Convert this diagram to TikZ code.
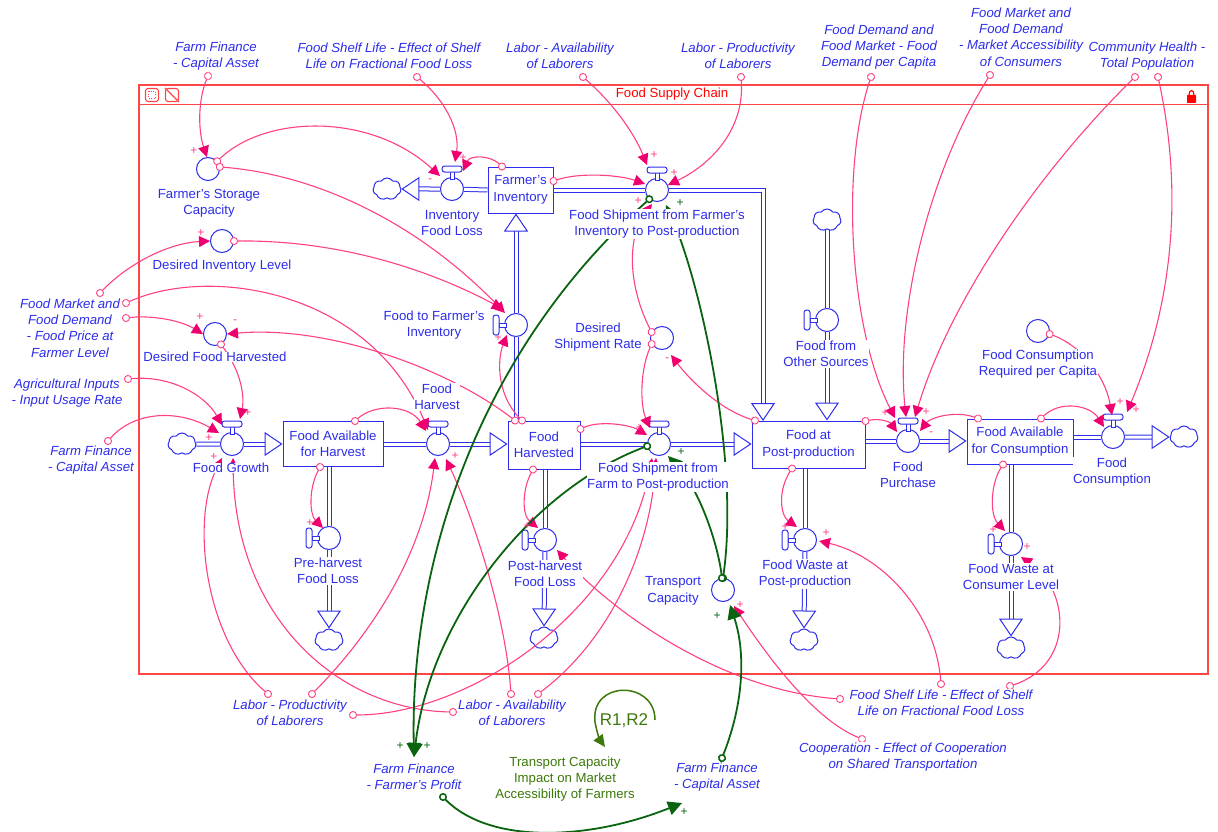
\documentclass[tikz,border=0pt]{standalone}
\usepackage{fontspec}
\setmainfont{Liberation Sans}
\usepackage{xcolor}
\usetikzlibrary{arrows.meta,shapes.symbols,calc}
\definecolor{flowblue}{RGB}{45,45,235}
\definecolor{linkpink}{RGB}{255,64,130}
\definecolor{tippink}{RGB}{240,0,110}
\definecolor{loopgreen}{RGB}{10,100,15}
\definecolor{olivegreen}{RGB}{60,120,10}
\definecolor{framered}{RGB}{255,70,70}
\pgfdeclarelayer{pipes}
\pgfdeclarelayer{links}
\pgfdeclarelayer{labels}
\pgfsetlayers{pipes,main,links,labels}
\tikzset{
	stockbox/.style={draw=flowblue, line width=1pt, fill=white, inner sep=0pt, text=flowblue, align=center, font=\fontsize{13.2}{16.4}\selectfont},
	flowv/.style={circle, draw=flowblue, line width=1pt, fill=white, inner sep=0pt, minimum size=23pt},
	conv/.style={flowv},
	puff/.style={cloud, cloud puffs=7, cloud puff arc=110, aspect=1.25, draw=flowblue, line width=1pt, fill=white, inner sep=0pt, minimum width=28pt, minimum height=22pt},
	pipe/.style={draw=flowblue, line width=1pt, double=white, double distance=3pt},
	pipehead/.style={pipe, -{Triangle[open, length=18pt, width=24pt, line width=1pt, fill=white]}},
	link/.style={draw=linkpink, line width=1.1pt, shorten <=-4pt, {Circle[open, length=8pt, width=8pt, line width=.9pt, fill=white]}-{Triangle[length=11pt, width=11pt, color=tippink]}},
	glink/.style={draw=loopgreen, line width=1.8pt, shorten <=-4pt, {Circle[open, length=8pt, width=8pt, line width=1.5pt, fill=white]}-{Triangle[length=14pt, width=14pt]}},
	varlabel/.style={text=flowblue, align=center, fill=white, inner sep=.5pt, font=\fontsize{13.2}{16.4}\selectfont},
	ghost/.style={varlabel, font=\fontsize{13.2}{16.4}\selectfont\itshape},
	pluspink/.style={text=linkpink, inner sep=0pt, font=\fontsize{12}{12}\selectfont},
	plusgreen/.style={text=loopgreen, inner sep=0pt, font=\fontsize{12}{12}\selectfont},
	valve up/.pic={
			\draw[draw=flowblue, line width=1pt, fill=white] (-2,-10) rectangle (2,-18);
			\draw[draw=flowblue, line width=1pt, fill=white, rounded corners=2.5pt] (-10,-17) rectangle (10,-23);
		},
	valve left/.pic={
			\draw[draw=flowblue, line width=1pt, fill=white] (-10,-2) rectangle (-17,2);
			\draw[draw=flowblue, line width=1pt, fill=white, rounded corners=2.5pt] (-17,-10) rectangle (-23,10);
		}
}
\begin{document}
\begin{tikzpicture}[x=1pt, y=-1pt]
	\useasboundingbox (0,0) rectangle (1218,832);

	% frame of the sector
	\begin{pgfonlayer}{pipes}
		\draw[draw=framered, line width=1.5pt] (139,85) rectangle (1208,674);
		\draw[draw=framered, line width=1pt] (139,105) -- (1208,105);
	\end{pgfonlayer}
	\node[draw=framered, line width=1.1pt, rounded corners=2.5pt, minimum size=13pt, inner sep=0pt] (icoA) at (152,95) {};
	\node[draw=framered, line width=.6pt, dotted, minimum size=7pt, inner sep=0pt] (icoAin) at (152,95) {};
	\node[draw=framered, line width=1.1pt, rounded corners=2.5pt, minimum size=13pt, inner sep=0pt] (icoB) at (172,95) {};
	\draw[draw=framered, line width=1.1pt] (icoB.north west) -- (icoB.south east);
	\node[text=red, inner sep=0pt, font=\fontsize{13.2}{14}\selectfont] (title) at (672,94) {Food Supply Chain};
	\fill[red, rounded corners=.6pt] (1187,95) rectangle (1196,103);
	\draw[red, line width=1.2pt] (1189,95) .. controls (1189,89) and (1194,89) .. (1194,95);

	% stocks
	\node[stockbox, minimum width=65pt, minimum height=46pt] (fi) at (520.5,190) {Farmer's\\Inventory};
	\node[stockbox, minimum width=100pt, minimum height=45pt] (fah) at (333,444) {Food Available\\for Harvest};
	\node[stockbox, minimum width=72pt, minimum height=48pt] (fh) at (544,445) {Food\\Harvested};
	\node[stockbox, minimum width=113pt, minimum height=47pt] (pp) at (808.5,444.5) {Food at\\Post-production};
	\node[stockbox, minimum width=106pt, minimum height=45pt] (fac) at (1020,441.5) {Food Available\\for Consumption};

	% flows and converters
	\foreach \n/\x/\y in {vFG/232/444, vFH/438/444, vSF/659/444, vFP/908/441, vFC/1113/437, vIL/452/189, vSI/657/190} {
		\node[flowv] (\n) at (\x,\y) {};
		\pic at (\n) {valve up};
	}
	\foreach \n/\x/\y in {vTF/516/325, vPH/329/538, vPL/545/540, vWP/805/540, vWC/1011/544, vOS/827/320} {
		\node[flowv] (\n) at (\x,\y) {};
		\pic at (\n) {valve left};
	}
	\foreach \n/\x/\y in {cSC/208/169, cDI/222/241, cDF/215/334, cDS/662/338, cTC/723/590, cCR/1038/331} {
		\node[conv] (\n) at (\x,\y) {};
	}
	\foreach \n/\x/\y in {clIL/387/189, clFG/182/444, clPH/329/640, clPL/544/638, clWP/804/640, clWC/1011/648, clFC/1184/437, clOS/827/220} {
		\node[puff] (\n) at (\x,\y) {};
	}

	\begin{pgfonlayer}{pipes}
		\draw[pipe] (clFG) -- (vFG);
		\draw[pipehead] (vFG) -- (fah.west);
		\draw[pipe] (fah.east) -- (vFH);
		\draw[pipehead] (vFH) -- (vFH -| fh.west);
		\draw[pipe] (vSF -| fh.east) -- (vSF);
		\draw[pipehead] (vSF) -- (vSF -| pp.west);
		\draw[pipe] (vFP -| pp.east) -- (vFP);
		\draw[pipehead] (vFP) -- (vFP -| fac.west);
		\draw[pipe] (vFC -| fac.east) -- (vFC);
		\draw[pipehead] (vFC) -- (clFC.west);
		\draw[pipe] (vPH |- fah.south) -- (vPH);
		\draw[pipehead] (vPH) -- (clPH.north);
		\draw[pipe] (vPL |- fh.south) -- (vPL);
		\draw[pipehead] (vPL) -- (clPL.north);
		\draw[pipe] (vWP |- pp.south) -- (vWP);
		\draw[pipehead] (vWP) -- (clWP.north);
		\draw[pipe] (vWC |- fac.south) -- (vWC);
		\draw[pipehead] (vWC) -- (clWC.north);
		\draw[pipe] (vTF |- fh.north) -- (vTF);
		\draw[pipehead] (vTF) -- (vTF |- fi.south);
		\draw[pipe] (fi.west) -- (vIL);
		\draw[pipehead] (vIL) -- (clIL.east);
		\draw[pipe] (fi.east) -- (vSI);
		\draw[pipehead] (vSI) -- (763,190) -- (763,421);
		\draw[pipe] (clOS.south) -- (vOS);
		\draw[pipehead] (vOS) -- (vOS |- pp.north);
	\end{pgfonlayer}

	% free ends of the links, next to the outer labels
	\foreach \n/\x/\y in {sCA/208/76, sSL/417/77, sLA/583/77, sLP/741/77, sFD/871/77, sFM/990/75, sCHa/1135/77, sCHb/1158/77,
			sPa/100/293, sPb/126/303, sPc/126/318, sAI/128/379, sCAb/108/441,
			sLPa/268/694, sLPb/312/694, sLAa/511/694, sLAb/538/694, sSLa/353/715, sSLb/453/712,
			sSLc/840/699, sSLd/941/684, sSLe/1010/686, sCO/862/739, sCAc/722/758, sFP/443/797} {
		\coordinate (\n) at (\x,\y);
	}

	\begin{pgfonlayer}{links}
		\draw[link] (sCA) .. controls (198,100) and (198,130) .. (cSC.95);
		\draw[link] (cSC.40) .. controls (265,115) and (370,112) .. (440,176);
		\draw[link] (cSC.10) .. controls (320,175) and (420,225) .. (505,313);
		\draw[link] (cDI.east) .. controls (340,240) and (430,270) .. (503,309);
		\draw[link] (sPa) .. controls (130,262) and (170,243) .. (cDI.west);
		\draw[link] (sPb) .. controls (210,265) and (370,290) .. (428,430);
		\draw[link] (sPc) .. controls (150,315) and (180,320) .. (cDF.west);
		\draw[link] (cDF.300) .. controls (240,370) and (245,395) .. (240,419);
		\draw[link] (sAI) .. controls (170,375) and (205,395) .. (222,425);
		\draw[link] (sCAb) .. controls (135,410) and (180,410) .. (219,433);
		\draw[link] (sLPa) .. controls (205,640) and (190,520) .. (222,458);
		\draw[link] (sSLb) .. controls (340,710) and (235,620) .. (233,458);
		\draw[link] (sLPb) .. controls (385,620) and (425,540) .. (435,458);
		\draw[link] (sLAa) .. controls (505,610) and (470,510) .. (446,459);
		\draw[link] (sLAb) .. controls (610,640) and (650,550) .. (656,458);
		\draw[link] (sSLa) .. controls (470,715) and (625,610) .. (652,458);
		\draw[link] (355,0 |- fah.north) .. controls (375,403) and (410,405) .. (426,431);
		\draw[link] (320,0 |- fah.south) .. controls (308,490) and (310,515) .. (323,528);
		\draw[link] (522,0 |- fh.north) .. controls (497,395) and (497,360) .. (507,335);
		\draw[link] (515,0 |- fh.north) .. controls (450,370) and (330,325) .. (cDF.east);
		\draw[link] (fh.east |- 0,429) .. controls (600,420) and (630,425) .. (647,435);
		\draw[link] (533,0 |- fh.south) .. controls (522,490) and (522,515) .. (538,528);
		\draw[link] (sSLc) .. controls (720,690) and (610,610) .. (557,550);
		\draw[link] (sSLd) .. controls (935,610) and (880,555) .. (819,541);
		\draw[link] (sSLe) .. controls (1075,665) and (1070,590) .. (1021,557);
		\draw[link] (pp.east |- 0,421) .. controls (880,418) and (890,422) .. (897,432);
		\draw[link] (978,0 |- fac.north) .. controls (955,410) and (930,418) .. (920,431);
		\draw[link] (1041,0 |- fac.north) .. controls (1060,400) and (1090,405) .. (1104,427);
		\draw[link] (1003,0 |- fac.south) .. controls (990,485) and (990,515) .. (1005,531);
		\draw[link] (792,0 |- pp.south) .. controls (778,490) and (780,515) .. (797,527);
		\draw[link] (755,0 |- pp.north) .. controls (720,410) and (690,380) .. (671,355);
		\draw[link] (cDS.150) .. controls (630,290) and (625,240) .. (652,204);
		\draw[link] (cDS.210) .. controls (640,370) and (640,405) .. (650,428);
		\draw[link] (fi.east |- 0,181) .. controls (580,172) and (620,175) .. (645,184);
		\draw[link] (502,0 |- fi.north) .. controls (490,155) and (470,155) .. (463,171);
		\draw[link] (sSL) .. controls (445,100) and (460,130) .. (455,162);
		\draw[link] (sLA) .. controls (615,105) and (635,135) .. (647,165);
		\draw[link] (sLP) .. controls (745,130) and (710,165) .. (668,185);
		\draw[link] (sFD) .. controls (840,170) and (850,330) .. (895,418);
		\draw[link] (sFM) .. controls (930,170) and (895,310) .. (906,417);
		\draw[link] (sCHa) .. controls (1040,170) and (950,300) .. (915,417);
		\draw[link] (sCHb) .. controls (1185,200) and (1170,310) .. (1127,412);
		\draw[link] (cCR.345) .. controls (1080,345) and (1105,375) .. (1112,415);
		\draw[link] (sCO) .. controls (815,720) and (770,660) .. (734,606);

		\draw[glink] (cTC.90) .. controls (740,460) and (700,280) .. (666,205);
		\draw[glink] (cTC.95) .. controls (718,545) and (700,490) .. (668,456);
		\draw[glink] (vSI.230) .. controls (480,350) and (410,560) .. (414,757);
		\draw[glink] (vSF.190) .. controls (530,490) and (430,620) .. (414,757);
		\draw[glink] (sFP) .. controls (490,845) and (590,840) .. (682,803);
		\draw[glink] (sCAc) .. controls (745,700) and (745,650) .. (730,605);

		\coordinate (loopA) at (655,720);
		\coordinate (loopB) at (605,747);
		\draw[draw=olivegreen, line width=1.5pt, -{Triangle[length=12pt, width=11pt]}] (loopA) .. controls (655,680) and (590,680) .. (595,722) .. controls (597,733) and (600,740) .. (loopB);
	\end{pgfonlayer}

	\begin{pgfonlayer}{labels}
		\node[varlabel] (lbSC) at (209,203) {Farmer's Storage\\Capacity};
		\node[varlabel] (lbDI) at (222,266) {Desired Inventory Level};
		\node[varlabel] (lbDF) at (215,357) {Desired Food Harvested};
		\node[varlabel] (lbFG) at (231,468) {Food Growth};
		\node[varlabel] (lbFH) at (437,397) {Food\\Harvest};
		\node[varlabel] (lbPH) at (328,571) {Pre-harvest\\Food Loss};
		\node[varlabel] (lbIL) at (452,223) {Inventory\\Food Loss};
		\node[varlabel] (lbTF) at (434,325) {Food to Farmer's\\Inventory};
		\node[varlabel] (lbSI) at (657,224) {Food Shipment from Farmer's\\Inventory to Post-production};
		\node[varlabel] (lbDS) at (598,337) {Desired\\Shipment Rate};
		\node[varlabel] (lbSF) at (658,477) {Food Shipment from\\Farm to Post-production};
		\node[varlabel] (lbPL) at (545,574) {Post-harvest\\Food Loss};
		\node[varlabel] (lbTC) at (673,591) {Transport\\Capacity};
		\node[varlabel] (lbWP) at (805,574) {Food Waste at\\Post-production};
		\node[varlabel] (lbFP) at (908,475) {Food\\Purchase};
		\node[varlabel] (lbOS) at (826,354) {Food from\\Other Sources};
		\node[varlabel] (lbCR) at (1038,364) {Food Consumption\\Required per Capita};
		\node[varlabel] (lbFC) at (1112,472) {Food\\Consumption};
		\node[varlabel] (lbWC) at (1011,577) {Food Waste at\\Consumer Level};

		\node[ghost] (gCA) at (216,56) {Farm Finance\\- Capital Asset};
		\node[ghost] (gSL) at (389,56) {Food Shelf Life - Effect of Shelf\\Life on Fractional Food Loss};
		\node[ghost] (gLA) at (560,56) {Labor - Availability\\of Laborers};
		\node[ghost] (gLP) at (738,56) {Labor - Productivity\\of Laborers};
		\node[ghost] (gFD) at (879,47) {Food Demand and\\Food Market - Food\\Demand per Capita};
		\node[ghost] (gFM) at (1021,37) {Food Market and\\Food Demand\\- Market Accessibility\\of Consumers};
		\node[ghost] (gCH) at (1147,56) {Community Health -\\Total Population};
		\node[ghost] (gFPr) at (70,328) {Food Market and\\Food Demand\\- Food Price at\\Farmer Level};
		\node[ghost] (gAI) at (67,393) {Agricultural Inputs\\- Input Usage Rate};
		\node[ghost] (gCAb) at (91,460) {Farm Finance\\- Capital Asset};
		\node[ghost] (gLPb) at (290,713) {Labor - Productivity\\of Laborers};
		\node[ghost] (gLAb) at (512,713) {Labor - Availability\\of Laborers};
		\node[ghost] (gSLb) at (941,703) {Food Shelf Life - Effect of Shelf\\Life on Fractional Food Loss};
		\node[ghost] (gCO) at (903,757) {Cooperation - Effect of Cooperation\\on Shared Transportation};
		\node[ghost] (gFPf) at (414,777) {Farm Finance\\- Farmer's Profit};
		\node[ghost] (gCAc) at (717,777) {Farm Finance\\- Capital Asset};

		\node[varlabel, text=olivegreen, fill=none] (lbLoop) at (565,779) {Transport Capacity\\Impact on Market\\Accessibility of Farmers};
		\node[text=olivegreen, inner sep=0pt, font=\fontsize{17}{19}\selectfont] (lbR) at (624,721) {R1,R2};

		\foreach \x/\y [count=\i] in {194/151, 201/233, 200/317, 248/413, 209/438, 214/457, 455/456, 463/158, 498/338, 654/155, 674/173, 638/201, 639/428, 310/523, 527/526, 785/527, 826/533, 993/530, 1027/547, 885/413, 926/412, 1136/410, 1120/402, 740/605} {
			\node[pluspink] (pos\i) at (\x,\y) {+};
		}
		\foreach \x/\y [count=\i] in {235/322, 430/181, 931/434, 667/360} {
			\node[pluspink] (neg\i) at (\x,\y) {-};
		}
		\foreach \x/\y [count=\i] in {680/203, 681/452, 717/616, 400/746, 427/746, 684/812} {
			\node[plusgreen] (gpos\i) at (\x,\y) {+};
		}
	\end{pgfonlayer}
\end{tikzpicture}
\end{document}
